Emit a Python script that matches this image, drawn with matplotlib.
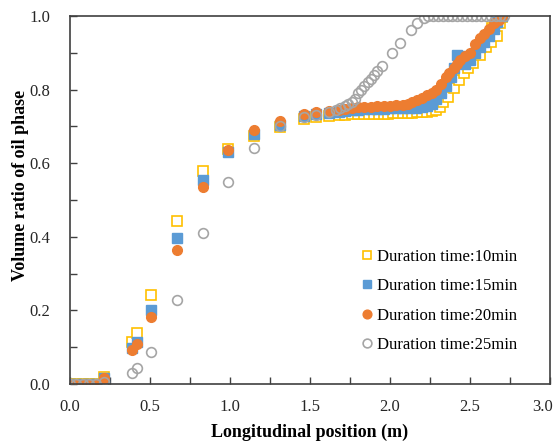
import matplotlib
matplotlib.use("Agg")
import matplotlib.pyplot as plt
from matplotlib.ticker import MultipleLocator
from matplotlib.transforms import ScaledTranslation

# データ (読み取り値)
x_10 = [0.00, 0.04, 0.08, 0.12, 0.16, 0.21, 0.39, 0.42, 0.505, 0.67, 0.83, 0.99,
        1.15, 1.31, 1.46, 1.54, 1.62, 1.68, 1.72, 1.76, 1.80, 1.84, 1.87, 1.90,
        1.93, 1.96, 1.99, 2.02, 2.05, 2.08, 2.11, 2.14, 2.17, 2.20, 2.23, 2.26,
        2.29, 2.31, 2.33, 2.36, 2.40, 2.43, 2.46, 2.49, 2.52, 2.56, 2.60, 2.63,
        2.67, 2.64, 2.69, 2.70]
y_10 = [0, 0, 0, 0, 0, 0.018, 0.115, 0.139, 0.242, 0.443, 0.578, 0.638,
        0.675, 0.698, 0.72, 0.725, 0.728, 0.730, 0.732, 0.733, 0.733, 0.734, 0.734, 0.735,
        0.735, 0.735, 0.735, 0.736, 0.736, 0.736, 0.737, 0.737, 0.738, 0.738, 0.740, 0.742,
        0.745, 0.753, 0.765, 0.780, 0.805, 0.825, 0.845, 0.860, 0.872, 0.894, 0.916, 0.930,
        0.945, 0.967, 0.980, 0.998]

x_15 = [0.00, 0.04, 0.08, 0.12, 0.16, 0.21, 0.39, 0.42, 0.505, 0.67, 0.83, 0.99,
        1.15, 1.31, 1.46, 1.54, 1.62, 1.68, 1.72, 1.76, 1.80, 1.84, 1.88, 1.92,
        1.96, 2.00, 2.04, 2.08, 2.12, 2.16, 2.20, 2.23, 2.26, 2.29, 2.32, 2.35,
        2.38, 2.40, 2.42, 2.44, 2.47, 2.50, 2.53, 2.56, 2.59, 2.62, 2.65, 2.67, 2.70]
y_15 = [0, 0, 0, 0, 0, 0.015, 0.097, 0.115, 0.200, 0.397, 0.555, 0.630,
        0.678, 0.705, 0.728, 0.733, 0.737, 0.740, 0.742, 0.744, 0.745, 0.746, 0.747, 0.748,
        0.748, 0.749, 0.749, 0.750, 0.750, 0.751, 0.752, 0.756, 0.762, 0.775, 0.790, 0.810,
        0.835, 0.860, 0.895, 0.890, 0.870, 0.880, 0.900, 0.915, 0.930, 0.945, 0.965, 0.985, 1.0]

x_20 = [0.00, 0.04, 0.08, 0.12, 0.16, 0.21, 0.39, 0.42, 0.505, 0.67, 0.83, 0.99,
        1.15, 1.31, 1.46, 1.54, 1.62, 1.68, 1.72, 1.76, 1.80, 1.84, 1.88, 1.92,
        1.96, 2.00, 2.04, 2.08, 2.11, 2.14, 2.17, 2.20, 2.23, 2.26, 2.29, 2.32,
        2.35, 2.37, 2.40, 2.42, 2.44, 2.47, 2.50, 2.53, 2.56, 2.59, 2.62, 2.65, 2.68, 2.70]
y_20 = [0, 0, 0, 0, 0, 0.015, 0.092, 0.110, 0.183, 0.363, 0.535, 0.637,
        0.690, 0.715, 0.735, 0.738, 0.742, 0.745, 0.748, 0.750, 0.752, 0.753, 0.754, 0.755,
        0.755, 0.756, 0.757, 0.758, 0.762, 0.767, 0.772, 0.778, 0.785, 0.792, 0.800, 0.815,
        0.835, 0.845, 0.860, 0.870, 0.880, 0.890, 0.900, 0.925, 0.940, 0.950, 0.965, 0.980, 0.990, 1.0]

x_25 = [0.00, 0.04, 0.08, 0.12, 0.16, 0.21, 0.39, 0.42, 0.505, 0.67, 0.83, 0.99,
        1.15, 1.31, 1.46, 1.54, 1.62, 1.66, 1.69, 1.72, 1.74, 1.76, 1.78, 1.80,
        1.82, 1.84, 1.86, 1.88, 1.90, 1.92, 1.95, 2.01, 2.06, 2.13, 2.17, 2.21,
        2.24, 2.27, 2.30, 2.33, 2.36, 2.39, 2.42, 2.45, 2.48, 2.51, 2.54, 2.57,
        2.60, 2.63, 2.66, 2.69, 2.71]
y_25 = [0, 0, 0, 0, 0, 0.005, 0.030, 0.043, 0.087, 0.228, 0.410, 0.550,
        0.642, 0.702, 0.725, 0.730, 0.740, 0.745, 0.750, 0.755, 0.760, 0.765, 0.775, 0.790,
        0.800, 0.810, 0.820, 0.830, 0.840, 0.850, 0.865, 0.900, 0.927, 0.962, 0.982, 0.995,
        1.0, 1.0, 1.0, 1.0, 1.0, 1.0, 1.0, 1.0, 1.0, 1.0, 1.0, 1.0,
        1.0, 1.0, 1.0, 1.0, 1.0]

labels = ["Duration time:10min", "Duration time:15min",
          "Duration time:20min", "Duration time:25min"]

# フォント
plt.rcParams["font.family"] = "Liberation Serif"
plt.rcParams["mathtext.fontset"] = "stix"

fig = plt.figure(figsize=(5.58, 4.45), dpi=100)
ax = fig.add_axes([70 / 558, 1 - 384 / 445, 480 / 558, 368 / 445])

ms = 7
ax.plot(x_10, y_10, ls="none", marker="s", ms=ms, mfc="white",
        mec="#FFC000", mew=1.2, label=labels[0])
ax.plot(x_15, y_15, ls="none", marker="s", ms=ms, mfc="#5B9BD5",
        mec="#5B9BD5", label=labels[1])
ax.plot(x_20, y_20, ls="none", marker="o", ms=ms, mfc="#ED7D31",
        mec="#ED7D31", label=labels[2])
ax.plot(x_25, y_25, ls="none", marker="o", ms=ms, mfc="none",
        mec="#A5A5A5", mew=1.2, label=labels[3])

# 軸
ax.set_xlim(0, 3.0)
ax.set_ylim(0, 1.0)
ax.set_xticks([0.0, 0.5, 1.0, 1.5, 2.0, 2.5, 3.0])
ax.set_xticklabels(["0.0", "0.5", "1.0", "1.5", "2.0", "2.5", "3.0"])
ax.xaxis.set_minor_locator(MultipleLocator(0.25))
ax.yaxis.set_major_locator(MultipleLocator(0.2))
ax.yaxis.set_minor_locator(MultipleLocator(0.1))
ax.yaxis.set_major_formatter(plt.FormatStrFormatter("%.1f"))
ax.tick_params(which="both", direction="in", length=5, width=1,
               color="#404040", labelsize=12, labelcolor="#262626")
ax.tick_params(which="both", top=False, right=False)
ax.tick_params(axis="x", pad=11)
ax.tick_params(axis="y", pad=14)
for sp in ax.spines.values():
    sp.set_color("#404040")
    sp.set_linewidth(1.2)

# 3.0 のラベルを少し左へ
last = ax.get_xticklabels()[-1]
last.set_transform(last.get_transform() + ScaledTranslation(-5 / 72, 0, fig.dpi_scale_trans))

ax.set_xlabel("Longitudinal position (m)", fontsize=13, fontweight="bold", labelpad=6)
ax.set_ylabel("Volume ratio of oil phase", fontsize=13, fontweight="bold")
ax.yaxis.set_label_coords(-0.085, 0.54)

ax.legend(loc="upper left", bbox_to_anchor=(0.595, 0.385), frameon=False,
          fontsize=12, handlelength=0.6, handletextpad=0.3, labelspacing=0.8,
          borderaxespad=0, markerscale=0.9)

fig.savefig("out.png", dpi=100)
